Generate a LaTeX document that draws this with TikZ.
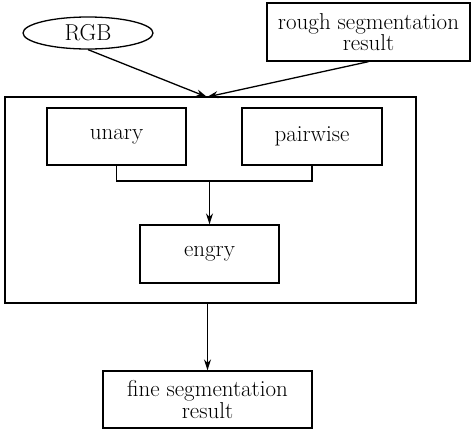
\documentclass[tikz,border=0pt]{standalone}
\usepackage{fontspec}
\usetikzlibrary{shapes.geometric,arrows.meta}
\begin{document}
\begin{tikzpicture}[x=1pt,y=1pt,
  box/.style={draw,line width=1.3pt,inner sep=0pt,align=center,font=\fontsize{23}{17}\selectfont},
  conn/.style={line width=1.3pt},
  arr/.style={conn,-{Stealth[length=11pt,width=7pt,inset=3.5pt]}}]
\useasboundingbox (0,0) rectangle (472,-432);
\node[box,ellipse,minimum width=130,minimum height=32] (rgb) at (88,-33) {RGB};
\node[box,minimum width=203,minimum height=58] (rough) at (368.5,-32) {rough segmentation\\result};
\node[draw,line width=1.3pt,minimum width=411,minimum height=206,inner sep=0pt] (outer) at (210.5,-200) {};
\node[box,minimum width=139,minimum height=57] (unary) at (116.5,-136.5) {unary};
\node[box,minimum width=140,minimum height=57] (pairwise) at (312,-136.5) {pairwise};
\node[box,minimum width=139,minimum height=58] (engry) at (209.5,-254) {engry};
\node[box,minimum width=209,minimum height=57] (fine) at (207.5,-399.5) {fine segmentation\\result};
\coordinate (in) at (207,-97);
\coordinate (join) at (209.5,-181);
\draw[arr] (rgb.south) -- (in);
\draw[arr] (rough.south) -- (in);
\draw[conn] (unary.south) |- (join) -| (pairwise.south);
\draw[arr] (join) -- (engry.north);
\draw[arr] (fine.north |- outer.south) -- (fine.north);
\end{tikzpicture}
\end{document}
